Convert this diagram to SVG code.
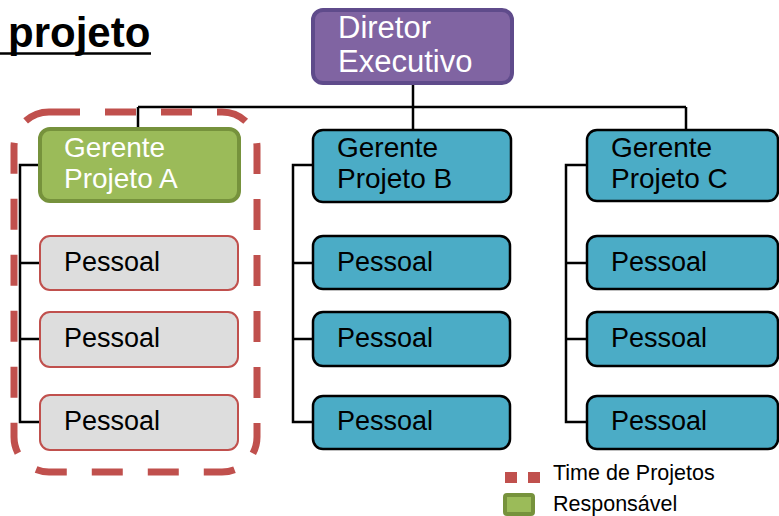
<svg xmlns="http://www.w3.org/2000/svg" width="779" height="516" viewBox="0 0 779 516">
<style>
text{font-family:"Liberation Sans",Arial,sans-serif}
.conn{stroke:#000;stroke-width:2.5;fill:none}
.blue{fill:#4BACC6;stroke:#000;stroke-width:2.5}
.grey{fill:#DDDDDD;stroke:#C0504D;stroke-width:2}
.t{font-size:27px;fill:#000}
.w{fill:#fff}
</style>
<rect width="779" height="516" fill="#fff"/>
<g id="title">
<text x="8" y="47" font-size="42" font-weight="bold" fill="#000">projeto</text>
<line x1="0" y1="53.5" x2="151" y2="53.5" stroke="#000" stroke-width="2.5"/>
</g>
<g id="connectors">
<path class="conn" d="M413 84V130M138 107H686M138 107V128M686 107V129"/>
<path class="conn" d="M39 165H20V422H40M20 263H40M20 339H40"/>
<path class="conn" d="M313 165H293V422H313M293 263H313M293 339H313"/>
<path class="conn" d="M587 165H566V422H587M566 263H587M566 339H587"/>
</g>
<g id="director">
<rect x="313" y="10" width="199" height="73" rx="10" fill="#8064A2" stroke="#5F4B8B" stroke-width="4"/>
<text x="338" y="38" font-size="31" class="w">Diretor</text>
<text x="338" y="72" font-size="31" class="w">Executivo</text>
</g>
<g id="gerenteA">
<rect x="40" y="129" width="199" height="72" rx="10" fill="#9BBB59" stroke="#76923C" stroke-width="4"/>
<text x="64" y="157" font-size="28" class="w">Gerente</text>
<text x="64" y="188" font-size="28" class="w">Projeto A</text>
</g>
<g id="gerenteB">
<rect x="313" y="130" width="198" height="72" rx="10" class="blue"/>
<text x="337" y="157" font-size="28">Gerente</text>
<text x="337" y="188" font-size="28">Projeto B</text>
</g>
<g id="gerenteC">
<rect x="587" y="130" width="191" height="71" rx="10" class="blue"/>
<text x="611" y="157" font-size="28">Gerente</text>
<text x="611" y="188" font-size="28">Projeto C</text>
</g>
<g id="pessoalA1"><rect x="40" y="236" width="198" height="54" rx="10" class="grey"/><text x="64" y="271" class="t">Pessoal</text></g>
<g id="pessoalA2"><rect x="40" y="312" width="198" height="55" rx="10" class="grey"/><text x="64" y="347" class="t">Pessoal</text></g>
<g id="pessoalA3"><rect x="40" y="395" width="198" height="55" rx="10" class="grey"/><text x="64" y="430" class="t">Pessoal</text></g>
<g id="pessoalB1"><rect x="313" y="236" width="197" height="53" rx="10" class="blue"/><text x="337" y="271" class="t">Pessoal</text></g>
<g id="pessoalB2"><rect x="313" y="312" width="197" height="54" rx="10" class="blue"/><text x="337" y="347" class="t">Pessoal</text></g>
<g id="pessoalB3"><rect x="313" y="396" width="197" height="53" rx="10" class="blue"/><text x="337" y="430" class="t">Pessoal</text></g>
<g id="pessoalC1"><rect x="587" y="236" width="191" height="53" rx="10" class="blue"/><text x="611" y="271" class="t">Pessoal</text></g>
<g id="pessoalC2"><rect x="587" y="312" width="191" height="54" rx="10" class="blue"/><text x="611" y="347" class="t">Pessoal</text></g>
<g id="pessoalC3"><rect x="587" y="396" width="191" height="53" rx="10" class="blue"/><text x="611" y="430" class="t">Pessoal</text></g>
<g id="team">
<rect x="14" y="112" width="243" height="360" rx="35" fill="none" stroke="#C0504D" stroke-width="7" stroke-dasharray="31 25"/>
</g>
<g id="legend">
<rect x="505" y="472" width="12" height="11" fill="#C0504D"/>
<rect x="528" y="472" width="12" height="11" fill="#C0504D"/>
<text x="553" y="480" font-size="21.5" fill="#000">Time de Projetos</text>
<rect x="505" y="495" width="28" height="19" rx="2" fill="#9BBB59" stroke="#76923C" stroke-width="4"/>
<text x="553" y="511" font-size="21.5" fill="#000">Responsável</text>
</g>
</svg>
